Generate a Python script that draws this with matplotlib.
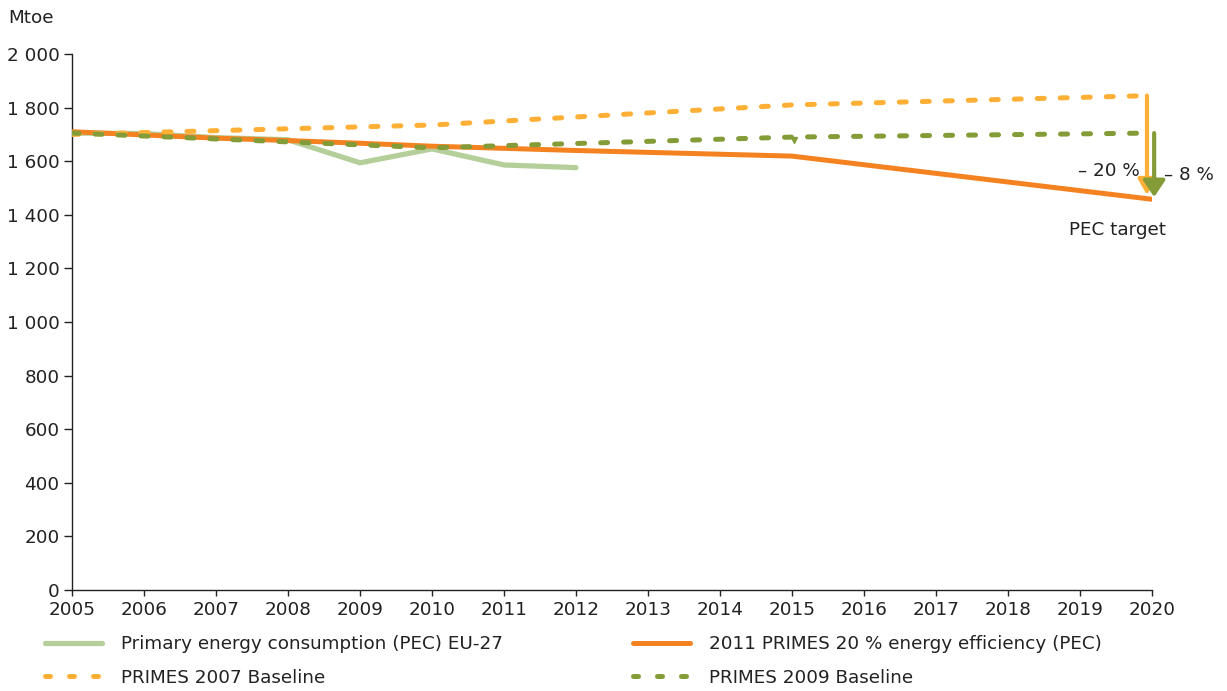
import matplotlib
matplotlib.use("Agg")
import matplotlib.pyplot as plt
import numpy as np
from matplotlib.lines import Line2D

# Years along the x axis (evenly spaced categories)
years = list(range(2005, 2021))

# Primary energy consumption EU-27 (Mtoe)
pec_years = [2005, 2006, 2007, 2008, 2009, 2010, 2011, 2012]
pec_values = [1705, 1703, 1688, 1680, 1594, 1646, 1586, 1576]

# 2011 PRIMES 20 % energy efficiency scenario
eff_years = [2005, 2006, 2007, 2008, 2009, 2010, 2011, 2012, 2015, 2020]
eff_values = [1710, 1698, 1686, 1677, 1667, 1656, 1648, 1640, 1619, 1458]

# PRIMES baselines
b2007_years = [2005, 2010, 2015, 2020]
b2007_values = [1700, 1735, 1810, 1845]
b2009_years = [2005, 2010, 2015, 2020]
b2009_values = [1705, 1650, 1690, 1705]

c_pec = "#b5cf9b"
c_eff = "#f58220"
c_b07 = "#fdb035"
c_b09 = "#849c37"
c_text = "#222222"
FS = 13.2

plt.rcParams['font.family'] = ['DejaVu Sans']
plt.rcParams['font.size'] = FS

fig = plt.figure(figsize=(12.27, 6.91), dpi=100)
ax = fig.add_axes([72 / 1227, 1 - 590 / 691, 1080 / 1227, 536 / 691])

def xi(ys):
    return [y - 2005 for y in ys]

ax.plot(xi(pec_years), pec_values, color=c_pec, lw=3.8, solid_capstyle='round', zorder=2)
ax.plot(xi(eff_years), eff_values, color=c_eff, lw=3.6, solid_capstyle='round', zorder=3)
ax.plot(xi(b2007_years), b2007_values, color=c_b07, lw=3.6, dashes=(1.4, 3.2),
        dash_capstyle='round', zorder=4)
ax.plot(xi(b2009_years), b2009_values, color=c_b09, lw=3.6, dashes=(1.4, 3.2),
        dash_capstyle='round', zorder=5)
# small marker on the 2009 baseline at 2015
ax.plot([2015 - 2005 + 0.03], [b2009_values[2] - 12], marker='v', ms=5,
        color=c_b09, zorder=5)

# Reduction arrows down to the PEC target
target = eff_values[-1]
x20 = 2020 - 2005
ax.annotate("", xy=(x20 - 0.07, target + 16), xytext=(x20 - 0.07, b2007_values[-1]),
            arrowprops=dict(arrowstyle="-|>,head_width=0.4,head_length=0.7",
                            color=c_b07, lw=3.0, shrinkA=0, shrinkB=0),
            annotation_clip=False, zorder=6)
ax.annotate("", xy=(x20 + 0.03, target + 8), xytext=(x20 + 0.03, b2009_values[-1]),
            arrowprops=dict(arrowstyle="-|>,head_width=0.5,head_length=0.75",
                            color=c_b09, lw=3.0, shrinkA=0, shrinkB=0),
            annotation_clip=False, zorder=7)
ax.text(x20 - 0.17, 1563, "– 20 %", ha='right', va='center', color=c_text, fontsize=FS)
ax.text(x20 + 0.16, 1550, "– 8 %", ha='left', va='center', color=c_text, fontsize=FS)
ax.text(x20 - 0.48, 1345, "PEC target", ha='center', va='center', color=c_text, fontsize=FS)

ax.set_xlim(0, len(years) - 1)
ax.set_ylim(0, 2000)
ax.set_xticks(range(len(years)))
ax.set_xticklabels([str(y) for y in years])
yt = np.arange(0, 2001, 200)
ax.set_yticks(yt)
ax.set_yticklabels([f"{v:,}".replace(",", " ") for v in yt])

for s in ['top', 'right']:
    ax.spines[s].set_visible(False)
for s in ['left', 'bottom']:
    ax.spines[s].set_color("#222222")
    ax.spines[s].set_linewidth(1.0)
ax.tick_params(axis='both', colors="#222222", labelcolor=c_text, labelsize=FS, width=1.0)
ax.tick_params(axis='x', length=4, pad=4)
ax.tick_params(axis='y', length=6, pad=3)

fig.text(8 / 1227, 1 - 18 / 691, "Mtoe", ha='left', va='center', color=c_text, fontsize=FS)

handles = [
    Line2D([], [], color=c_pec, lw=3.8, solid_capstyle='round'),
    Line2D([], [], color=c_b07, lw=3.6, dashes=(1.0, 3.8), dash_capstyle='round'),
    Line2D([], [], color=c_eff, lw=3.6, solid_capstyle='round'),
    Line2D([], [], color=c_b09, lw=3.6, dashes=(1.0, 3.8), dash_capstyle='round'),
]
labels = [
    "Primary energy consumption (PEC) EU-27",
    "PRIMES 2007 Baseline",
    "2011 PRIMES 20 % energy efficiency (PEC)",
    "PRIMES 2009 Baseline",
]
legend_kw = dict(loc='center left', frameon=False, fontsize=FS, handlelength=3.1,
                 handletextpad=1.05, labelspacing=0.82, borderpad=0,
                 borderaxespad=0, labelcolor=c_text)
leg1 = fig.legend(handles[:2], labels[:2], bbox_to_anchor=(45 / 1227, 1 - 661 / 691),
                  **legend_kw)
leg2 = fig.legend(handles[2:], labels[2:], bbox_to_anchor=(633 / 1227, 1 - 661 / 691),
                  **legend_kw)

fig.savefig("out.png", dpi=100)
